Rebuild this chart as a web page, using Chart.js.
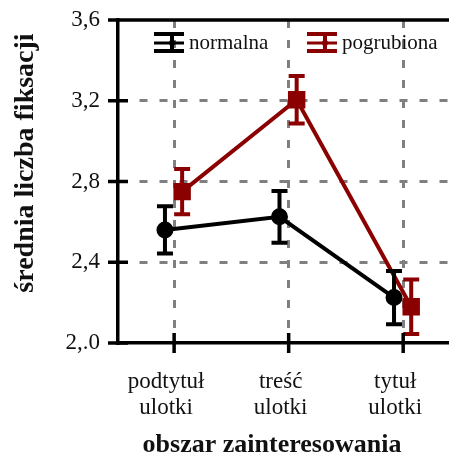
<!DOCTYPE html>
<html>
<head>
<meta charset="utf-8">
<script src="https://cdn.jsdelivr.net/npm/chart.js@4"></script>
<style>
  html, body { margin: 0; padding: 0; background: #fff; overflow: hidden; }
</style>
</head>
<body>
<canvas id="chart" width="449" height="463"></canvas>
<script>
// dane wykresu
const categories = [["podtytuł", "ulotki"], ["treść", "ulotki"], ["tytuł", "ulotki"]];
const seriesNames = ["normalna", "pogrubiona"];
const normalnaMean = [2.56, 2.625, 2.225];
const normalnaErr = [0.117, 0.128, 0.132];
const pogrubionaMean = [2.75, 3.205, 2.18];
const pogrubionaErr = [0.112, 0.118, 0.135];
const yTicks = [2.0, 2.4, 2.8, 3.2, 3.6];
const yTickLabels = ["2,.0", "2,4", "2,8", "3,2", "3,6"];
const xTitle = "obszar zainteresowania";
const yTitle = "średnia liczba fiksacji";

const FONT = "'Liberation Serif', 'Times New Roman', serif";
const RED = "#8b0000";
const dodge = [-0.08, 0.07];

const toPoints = (means, k) => means.map((v, i) => ({ x: i + 1 + dodge[k], y: v }));
const errors = [normalnaErr, pogrubionaErr];

const noPad = (s) => {
  s.paddingTop = 0;
  s.paddingBottom = 0;
  s.paddingLeft = 0;
  s.paddingRight = 0;
};

// słupki błędów
const errorBars = {
  id: "errorBars",
  afterDatasetsDraw(chart) {
    const { ctx, scales: { y } } = chart;
    [0, 1].forEach((k) => {
      const meta = chart.getDatasetMeta(k);
      const ds = chart.data.datasets[k];
      ctx.save();
      ctx.strokeStyle = ds.borderColor;
      ctx.lineWidth = 4;
      meta.data.forEach((pt, i) => {
        const v = ds.data[i].y;
        const top = y.getPixelForValue(v + errors[k][i]);
        const bot = y.getPixelForValue(v - errors[k][i]);
        ctx.beginPath();
        ctx.moveTo(pt.x, top);
        ctx.lineTo(pt.x, bot);
        ctx.moveTo(pt.x - 8, top);
        ctx.lineTo(pt.x + 8, top);
        ctx.moveTo(pt.x - 8, bot);
        ctx.lineTo(pt.x + 8, bot);
        ctx.stroke();
      });
      ctx.restore();
    });
  },
};

// osie, znaczniki, legenda i tytuły osi
const decorations = {
  id: "decorations",
  afterDraw(chart) {
    const { ctx, chartArea: a, scales: { x, y } } = chart;
    ctx.save();
    ctx.strokeStyle = "#000";
    ctx.lineWidth = 3.5;
    ctx.beginPath();
    ctx.moveTo(a.left - 10, a.top);
    ctx.lineTo(a.right, a.top);
    yTicks.forEach((v) => {
      const py = y.getPixelForValue(v);
      ctx.moveTo(a.left - 10, py);
      ctx.lineTo(a.left + 10, py);
    });
    x.ticks.forEach((t) => {
      const px = x.getPixelForValue(t.value);
      ctx.moveTo(px, a.bottom - 10);
      ctx.lineTo(px, a.bottom + 10);
    });
    ctx.stroke();

    // legenda
    const items = [
      { cx: 169, tx: 189, color: "#000", name: seriesNames[0] },
      { cx: 322, tx: 342, color: RED, name: seriesNames[1] },
    ];
    const ly = 43;
    items.forEach((it) => {
      ctx.strokeStyle = it.color;
      ctx.fillStyle = it.color;
      ctx.lineWidth = 4;
      ctx.beginPath();
      ctx.moveTo(it.cx - 15, ly - 9);
      ctx.lineTo(it.cx + 15, ly - 9);
      ctx.moveTo(it.cx - 15, ly + 8);
      ctx.lineTo(it.cx + 15, ly + 8);
      ctx.moveTo(it.cx + 3, ly - 9);
      ctx.lineTo(it.cx + 3, ly + 8);
      ctx.stroke();
      ctx.lineWidth = 3;
      ctx.beginPath();
      ctx.moveTo(it.cx - 15, ly);
      ctx.lineTo(it.cx + 15, ly);
      ctx.stroke();
      ctx.beginPath();
      ctx.arc(it.cx + 3, ly, 3, 0, Math.PI * 2);
      ctx.fill();
      ctx.fillStyle = "#111";
      ctx.font = "21px " + FONT;
      ctx.textAlign = "left";
      ctx.textBaseline = "middle";
      ctx.fillText(it.name, it.tx, ly);
    });

    // tytuł osi X
    ctx.fillStyle = "#111";
    ctx.font = "bold 26px " + FONT;
    ctx.textAlign = "center";
    ctx.textBaseline = "middle";
    ctx.fillText(xTitle, 272, 445);

    // tytuł osi Y
    ctx.translate(26, 163);
    ctx.rotate(-Math.PI / 2);
    ctx.font = "bold 28px " + FONT;
    ctx.fillText(yTitle, 0, 0);
    ctx.restore();
  },
};

const chart = document.querySelector("#chart").getContext("2d");

new Chart(chart, {
  type: "line",
  data: {
    datasets: [
      {
        label: seriesNames[0],
        data: toPoints(normalnaMean, 0),
        borderColor: "#000",
        backgroundColor: "#000",
        borderWidth: 4,
        pointStyle: "circle",
        pointRadius: 6.5,
        order: 2,
      },
      {
        label: seriesNames[1],
        data: toPoints(pogrubionaMean, 1),
        borderColor: RED,
        backgroundColor: RED,
        borderWidth: 4,
        pointStyle: "rect",
        pointRadius: 9.5,
        order: 1,
      },
    ],
  },
  options: {
    responsive: false,
    animation: false,
    layout: { autoPadding: false, padding: { top: 20, right: 0, left: 0, bottom: 0 } },
    plugins: {
      legend: { display: false },
      tooltip: { enabled: false },
    },
    scales: {
      x: {
        type: "linear",
        min: 0.51,
        max: 3.4,
        afterBuildTicks: (s) => {
          s.ticks = categories.map((c, i) => ({ value: i + 1 }));
        },
        afterFit: (s) => {
          s.height = 120;
          noPad(s);
        },
        grid: { color: "#808080", lineWidth: 3, drawTicks: false },
        border: { display: true, color: "#000", width: 3.5, dash: [8, 12] },
        ticks: {
          padding: 25,
          labelOffset: -8,
          color: "#111",
          font: { family: FONT, size: 23, lineHeight: 1.17 },
          callback: (v) => categories[v - 1],
        },
      },
      y: {
        min: 2.0,
        max: 3.6,
        afterBuildTicks: (s) => {
          s.ticks = yTicks.map((v) => ({ value: v }));
        },
        afterFit: (s) => {
          s.width = 118;
          noPad(s);
        },
        grid: {
          color: (c) => (c.tick && (c.tick.value === 2.0 || c.tick.value === 3.6) ? "rgba(0,0,0,0)" : "#808080"),
          lineWidth: 3,
          drawTicks: false,
        },
        border: { display: true, color: "#000", width: 3.5, dash: [8, 12] },
        ticks: {
          padding: 18,
          color: "#111",
          font: { family: FONT, size: 23 },
          callback: (v, i) => yTickLabels[i],
        },
      },
    },
  },
  plugins: [errorBars, decorations],
});
</script>
</body>
</html>
